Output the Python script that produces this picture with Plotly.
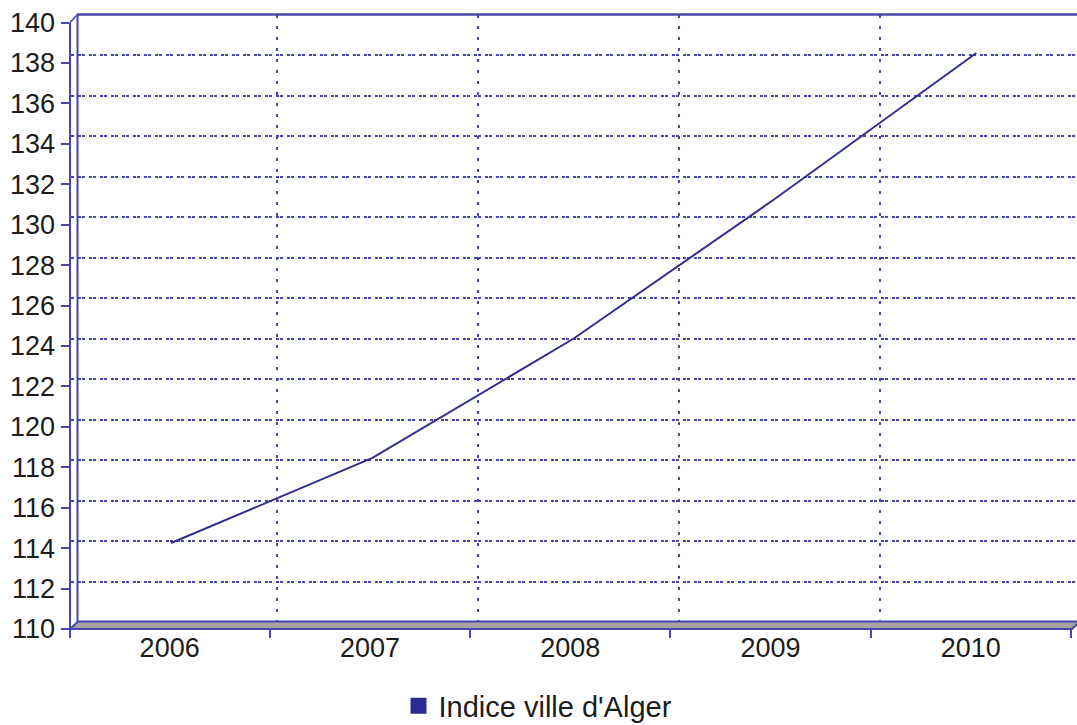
import plotly.graph_objects as go

# Price index for the city of Algiers, 2006-2010
years = ["2006", "2007", "2008", "2009", "2010"]
indice = [113.9, 118.1, 124.0, 130.9, 138.1]
series_name = "Indice ville d'Alger"
y_min, y_max, y_step = 110, 140, 2

W, H = 1077, 725
BLUE = "#4646ac"
LINE_BLUE = "#2f2f8f"
FLOOR = "#a9a2a2"
TEXT = "#1c1c1c"
FONT = "Liberation Sans, Arial, sans-serif"


def fx(p):
    return min(p / W, 1.0)


def fy(p):
    return 1 - p / H


fig = go.Figure()

# invisible trace so the front (labelled) axes get drawn
fig.add_trace(go.Scatter(x=years, y=indice, xaxis="x2", yaxis="y2", mode="lines",
                         line=dict(width=0), opacity=0, showlegend=False,
                         hoverinfo="skip"))

# the index line, drawn against the back wall scale
fig.add_trace(go.Scatter(x=years, y=indice, xaxis="x3", yaxis="y", mode="lines",
                         line=dict(color=LINE_BLUE, width=2), showlegend=False,
                         name=series_name))

# legend entry with a square swatch
fig.add_trace(go.Scatter(x=[None], y=[None], mode="markers", name=series_name,
                         marker=dict(symbol="square", size=18, color="#2b2b93"),
                         showlegend=True))

# back wall: category boundaries every 201 px, first one 199 px from the wall
back_start = 0.5 - 199.0 / 201.0
back_span = (W - 77.5) / 201.0

fig.update_layout(
    width=W, height=H,
    margin=dict(l=0, r=0, t=0, b=0, autoexpand=False),
    paper_bgcolor="white",
    plot_bgcolor="rgba(0,0,0,0)",
    font=dict(family=FONT, size=27, color=TEXT),
    showlegend=True,
    legend=dict(orientation="h", x=fx(538), xanchor="center", y=fy(706),
                yanchor="middle", font=dict(size=29, color=TEXT),
                bgcolor="rgba(0,0,0,0)", itemsizing="trace", itemwidth=30),
    # back wall grid
    xaxis=dict(domain=[fx(77.5), 1], type="category", categoryorder="array",
               categoryarray=years, range=[back_start, back_start + back_span],
               tickson="boundaries", showgrid=True, gridcolor=BLUE,
               griddash="3px,8px", gridwidth=1.5, showticklabels=False,
               ticks="", showline=False, zeroline=False, anchor="y"),
    yaxis=dict(domain=[fy(622), fy(14.5)], range=[y_min, y_max], dtick=y_step,
               showgrid=True, gridcolor=BLUE, griddash="3px,8px", gridwidth=1.5,
               showticklabels=False, ticks="inside", ticklen=3, tickcolor=BLUE,
               showline=False, zeroline=False, anchor="x"),
    # front labelled axes
    xaxis2=dict(domain=[fx(69.5), fx(1071)], type="category", categoryorder="array",
                categoryarray=years, range=[-0.5, 4.5], tickson="boundaries",
                ticks="outside", ticklen=8, tickwidth=2, tickcolor=BLUE,
                showgrid=False, showline=False, zeroline=False,
                tickfont=dict(size=27, color=TEXT), anchor="y2"),
    yaxis2=dict(domain=[fy(629), fy(22.5)], range=[y_min, y_max], dtick=y_step,
                ticks="outside", ticklen=8, tickwidth=2, tickcolor=BLUE,
                showgrid=False, showline=False, zeroline=False,
                tickfont=dict(size=27, color=TEXT), anchor="x2"),
    # axis carrying the line positions
    xaxis3=dict(domain=[fx(70.5), 1], type="category", categoryorder="array",
                categoryarray=years, range=[-0.5, 4.5], visible=False,
                anchor="y"),
)


def path(points):
    return "M " + " L ".join(f"{a / W},{fy(b)}" for a, b in points) + " Z"


shapes = [
    # floor
    dict(type="path", xref="paper", yref="paper",
         path=path([(70, 629), (1072, 629), (1080, 621.5), (78, 621.5)]),
         fillcolor=FLOOR, line=dict(color=BLUE, width=2), layer="above"),
    # back wall left edge
    dict(type="line", xref="paper", yref="paper", x0=fx(77.5), x1=fx(77.5),
         y0=fy(622), y1=fy(14), line=dict(color=BLUE, width=2)),
    # top edge of back wall
    dict(type="line", xref="paper", yref="paper", x0=fx(77), x1=1.01,
         y0=fy(14.5), y1=fy(14.5), line=dict(color=BLUE, width=2.5)),
    # front vertical axis
    dict(type="line", xref="paper", yref="paper", x0=fx(70), x1=fx(70),
         y0=fy(629), y1=fy(22.5), line=dict(color=BLUE, width=2)),
    # side wall top edge
    dict(type="line", xref="paper", yref="paper", x0=fx(70), x1=fx(77.5),
         y0=fy(22.5), y1=fy(14.5), line=dict(color=BLUE, width=1.5)),
]
fig.update_layout(shapes=shapes)

fig.write_html("out.html")
